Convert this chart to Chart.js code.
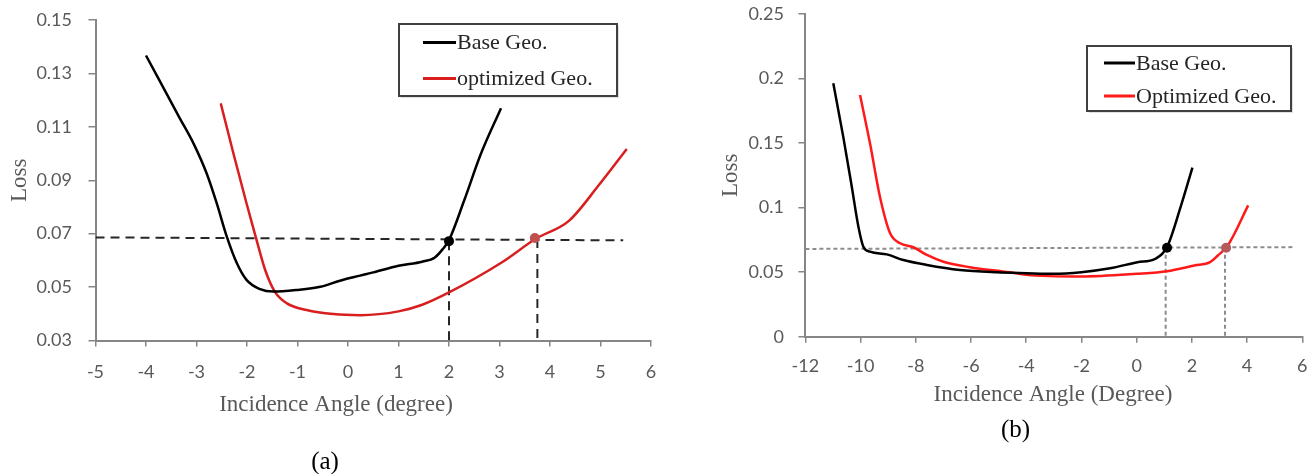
<!DOCTYPE html>
<html>
<head>
<meta charset="utf-8">
<script src="https://cdn.jsdelivr.net/npm/chart.js@4.4.1/dist/chart.umd.min.js"></script>
<style>
  body { margin: 0; background: #fff; overflow: hidden; }
  #wrap { position: relative; width: 1315px; height: 474px; }
  canvas { position: absolute; top: 0; }
  #chartA { left: 0; }
  #chartB { left: 660px; }
</style>
</head>
<body>
<div id="wrap">
  <canvas id="chartA" width="660" height="474"></canvas>
  <canvas id="chartB" width="655" height="474"></canvas>
</div>
<script>
// (a) valeurs
const angleA_base = [-4, -3.33, -3.06, -2.8, -2.6, -2.4, -2.2, -2.01, -1.74, -1.48, -1.02, -0.55, -0.16, 0.24, 0.5, 1, 1.47, 1.72, 1.88, 2, 2.3, 2.63, 3.03];
const lossA_base  = [0.1367, 0.1132, 0.1038, 0.0926, 0.0814, 0.0689, 0.0589, 0.0527, 0.0492, 0.0483, 0.0489, 0.0501, 0.0524, 0.0543, 0.0555, 0.058, 0.0595, 0.0611, 0.0643, 0.0676, 0.0824, 0.0998, 0.117];
const angleA_opt  = [-2.52, -2.27, -2.01, -1.81, -1.64, -1.45, -1.21, -0.82, -0.29, 0.24, 1, 1.47, 2, 3.05, 3.71, 4.38, 4.96, 5.52];
const lossA_opt   = [0.1188, 0.1001, 0.0814, 0.0676, 0.0564, 0.0483, 0.0439, 0.0414, 0.0399, 0.0395, 0.0409, 0.0434, 0.048, 0.0593, 0.068, 0.0749, 0.088, 0.1017];
const refA_hx = [-5, 5.45];
const refA_hy = [0.0686, 0.0675];
const refA_vx = [2, 3.75];
const refA_vtop = [0.0672, 0.068];
const markA_x = [2, 3.7];
const markA_y = [0.0672, 0.0684];
const ticksA_y = [0.03, 0.15, 0.02];
const ticksA_x = [-5, 6, 1];

// (b)
const angleB_base = [-10.99, -10.63, -10.32, -10.08, -9.9, -9.66, -9.05, -8.45, -7.6, -6.4, -5.07, -4, -3, -2, -0.96, 0.03, 0.67, 1.1, 1.59, 2.02];
const lossB_base  = [0.1963, 0.155, 0.1162, 0.0852, 0.0697, 0.0659, 0.0638, 0.0594, 0.0556, 0.0517, 0.0499, 0.0492, 0.0487, 0.05, 0.053, 0.0577, 0.0603, 0.0694, 0.1004, 0.131];
const angleB_opt  = [-10.02, -9.66, -9.3, -8.93, -8.57, -8.09, -7.6, -7, -6.04, -4.59, -4, -2, 0, 1.1, 2.09, 2.66, 2.94, 3.3, 4.04];
const lossB_opt   = [0.1873, 0.1498, 0.1085, 0.0801, 0.0724, 0.0693, 0.0633, 0.0581, 0.0538, 0.0499, 0.0479, 0.0466, 0.0487, 0.0507, 0.0551, 0.0577, 0.0629, 0.0706, 0.1017];
const refB_hx = [-12, 5.64];
const refB_hy = [0.068, 0.0694];
const refB_vx = [1.05, 3.2];
const refB_vtop = [0.069, 0.069];
const markB_x = [1.1, 3.24];
const markB_y = [0.0689, 0.0689];
const ticksB_y = [0, 0.25, 0.05];
const ticksB_x = [-12, 6, 2];

const SERIF = "'Liberation Serif', 'Times New Roman', serif";
Chart.defaults.font.family = "Lato, sans-serif";
Chart.defaults.color = '#595959';

const pts = (xs, ys) => xs.map((x, i) => ({ x: x, y: ys[i] }));

// légende, titre d'axe x et légende (a)/(b) dessinés à la main
const figureText = {
    id: 'figureText',
    afterDraw(chart, args, o) {
        const ctx = chart.ctx;
        ctx.save();
        const b = o.box;
        ctx.fillStyle = 'rgba(0,0,0,0.12)';
        ctx.fillRect(b.x + 2, b.y + 2, b.w, b.h);
        ctx.fillStyle = '#fff';
        ctx.fillRect(b.x, b.y, b.w, b.h);
        ctx.strokeStyle = '#404040';
        ctx.lineWidth = 2;
        ctx.strokeRect(b.x, b.y, b.w, b.h);
        const series = chart.data.datasets.filter(d => d.label);
        ctx.font = "22px " + SERIF;
        ctx.textBaseline = 'middle';
        ctx.textAlign = 'left';
        series.forEach((d, i) => {
            const y = o.rows[i];
            ctx.strokeStyle = d.borderColor;
            ctx.lineWidth = 3;
            ctx.beginPath();
            ctx.moveTo(o.sample[0], y);
            ctx.lineTo(o.sample[1], y);
            ctx.stroke();
            ctx.fillStyle = '#262626';
            ctx.fillText(d.label, o.sample[1] + 1, y + 1);
        });
        ctx.textAlign = 'center';
        ctx.fillStyle = '#595959';
        ctx.font = "23px " + SERIF;
        ctx.fillText(o.xTitle.text, o.xTitle.x, o.xTitle.y);
        ctx.fillStyle = '#000';
        ctx.font = "25px " + SERIF;
        ctx.fillText(o.caption.text, o.caption.x, o.caption.y);
        ctx.restore();
    }
};

const makeChart = (id, d) => {
    const datasets = [
        { data: pts(d.markX, d.markY), showLine: false, pointRadius: 5, pointBackgroundColor: [ '#000', d.markRed ], pointBorderWidth: 0 },
        { label: 'Base Geo.', data: pts(d.baseX, d.baseY), borderColor: '#000', borderWidth: 2.5 },
        { label: d.optLabel, data: pts(d.optX, d.optY), borderColor: d.red, borderWidth: 2.5 },
        { data: pts(d.hx, d.hy), borderColor: d.refColor, borderWidth: 2, borderDash: d.dash },
        { data: pts([d.vx[0], d.vx[0]], [d.vtop[0], d.yTicks[0]]), borderColor: d.refColor, borderWidth: 2, borderDash: d.dash },
        { data: pts([d.vx[1], d.vx[1]], [d.vtop[1], d.yTicks[0]]), borderColor: d.refColor, borderWidth: 2, borderDash: d.dash }
    ];
    datasets.forEach((ds, i) => {
        if (i > 0) { ds.showLine = true; ds.pointRadius = 0; ds.fill = false; }
        if (i === 1 || i === 2) ds.cubicInterpolationMode = 'monotone';
    });

    return new Chart(document.getElementById(id), {
        type: 'scatter',
        data: { datasets: datasets },
        options: {
            responsive: false,
            animation: false,
            layout: { padding: { left: 0, top: d.padTop, right: d.padRight, bottom: 0 } },
            scales: {
                x: {
                    type: 'linear', min: d.xTicks[0], max: d.xTicks[1],
                    ticks: { stepSize: d.xTicks[2], padding: d.xPad, font: { size: 18 }, callback: v => String(v) },
                    grid: { drawOnChartArea: false, tickLength: 6, color: '#868686', lineWidth: 1.5 },
                    border: { color: '#868686', width: 2 },
                    afterFit: s => { s.height = d.xHeight; s.paddingLeft = 0; s.paddingRight = 0; }
                },
                y: {
                    min: d.yTicks[0], max: d.yTicks[1],
                    ticks: { stepSize: d.yTicks[2], padding: d.yPad, font: { size: 18 }, callback: d.yFmt },
                    grid: { drawOnChartArea: false, tickLength: 7, color: '#868686', lineWidth: 1.5 },
                    border: { color: '#868686', width: 2 },
                    title: { display: true, text: 'Loss', color: '#595959', font: { family: SERIF, size: 23 }, padding: { top: d.yTitlePad } },
                    afterFit: s => { s.width = d.yWidth; s.paddingTop = 0; s.paddingBottom = 0; }
                }
            },
            plugins: {
                legend: { display: false },
                tooltip: { enabled: false },
                figureText: d.text
            }
        },
        plugins: [figureText]
    });
};

makeChart('chartA', {
    baseX: angleA_base, baseY: lossA_base, optX: angleA_opt, optY: lossA_opt,
    optLabel: 'optimized Geo.', red: '#d81e1e', markRed: '#c0504d',
    hx: refA_hx, hy: refA_hy, vx: refA_vx, vtop: refA_vtop, markX: markA_x, markY: markA_y,
    refColor: '#262626', dash: [9, 6],
    xTicks: ticksA_x, yTicks: ticksA_y, yFmt: v => v.toFixed(2),
    padTop: 20, padRight: 9, xHeight: 133.5, yWidth: 95.5, xPad: 15, yPad: 16.5, yTitlePad: 6,
    text: {
        box: { x: 399, y: 24, w: 218, h: 72 }, sample: [423, 456], rows: [42.5, 78.5],
        xTitle: { text: 'Incidence Angle (degree)', x: 336, y: 405 },
        caption: { text: '(a)', x: 325, y: 462 }
    }
});

makeChart('chartB', {
    baseX: angleB_base, baseY: lossB_base, optX: angleB_opt, optY: lossB_opt,
    optLabel: 'Optimized Geo.', red: '#ff1a1a', markRed: '#b55a5a',
    hx: refB_hx, hy: refB_hy, vx: refB_vx, vtop: refB_vtop, markX: markB_x, markY: markB_y,
    refColor: '#8c8c8c', dash: [4, 3],
    xTicks: ticksB_x, yTicks: ticksB_y, yFmt: v => String(+v.toFixed(2)),
    padTop: 14, padRight: 12.7, xHeight: 137.3, yWidth: 145.4, xPad: 13, yPad: 14.4, yTitlePad: 56.7,
    text: {
        box: { x: 427, y: 46, w: 204, h: 65 }, sample: [444, 475], rows: [63, 96],
        xTitle: { text: 'Incidence Angle (Degree)', x: 393, y: 395 },
        caption: { text: '(b)', x: 355.6, y: 430 }
    }
});
</script>
</body>
</html>
